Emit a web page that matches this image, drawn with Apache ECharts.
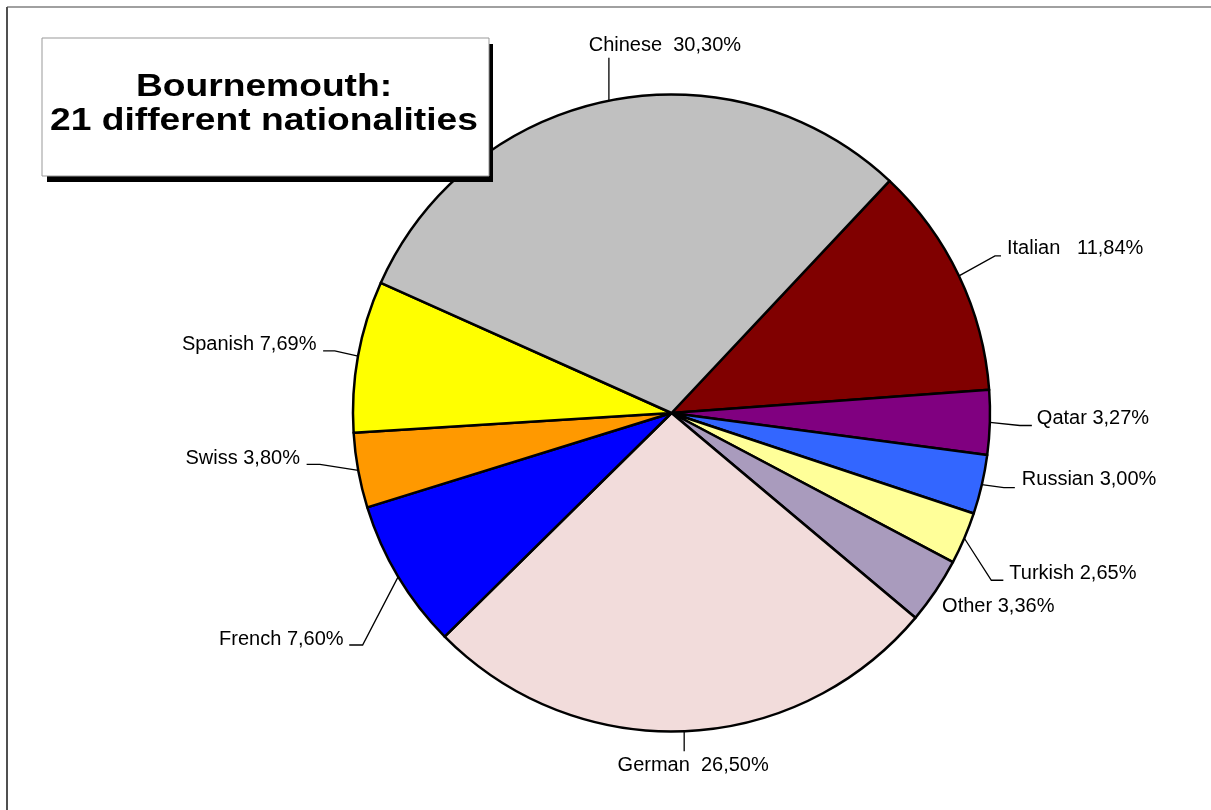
<!DOCTYPE html>
<html>
<head>
<meta charset="utf-8">
<script src="https://cdn.jsdelivr.net/npm/echarts@6/dist/echarts.min.js"></script>
<style>
html,body{margin:0;padding:0;background:#fff;}
#chart{width:1211px;height:810px;}
</style>
</head>
<body>
<div id="chart"></div>
<script>
// ---- data ----
const categories = ['Italian', 'Qatar', 'Russian', 'Turkish', 'Other', 'German', 'French', 'Swiss', 'Spanish', 'Chinese'];
const shares = [11.84, 3.27, 3.00, 2.65, 3.36, 26.50, 7.60, 3.80, 7.69, 30.30];
const labelSeparators = ['   ', ' ', ' ', ' ', ' ', '  ', ' ', ' ', ' ', '  '];
const titleLines = ['Bournemouth:', '21 different nationalities'];

// ---- styles / layout (not data) ----
const colors = ['#800000', '#800080', '#3366FF', '#FFFF99', '#A99BBD', '#F2DCDB', '#0000FF', '#FF9900', '#FFFF00', '#C0C0C0'];
// label placement relative to the slice's edge anchor computed by ECharts
// t: text anchor, e: elbow, l: line end, a: align
const placement = [
  {t:[48,-27], e:[36,-20], l:[42,-20], a:'left'},
  {t:[47,-3.5], e:[30,3], l:[42,3], a:'left'},
  {t:[40,-5.5], e:[22,3], l:[33,3], a:'left'},
  {t:[45,35], e:[27,42], l:[39,42], a:'left'},
  {t:[6.5,15], e:[0,0], l:[0,0], a:'left'},
  {t:[9,34], e:[0,20], l:[0,20], a:'center'},
  {t:[-54.6,62.5], e:[-35.6,68.4], l:[-49,68.4], a:'right'},
  {t:[-58.3,-12.3], e:[-38.3,-6], l:[-51.6,-6], a:'right'},
  {t:[-41.7,-12], e:[-23.4,-5.3], l:[-35,-5.3], a:'right'},
  {t:[56,-55], e:[0,-43], l:[0,-43], a:'center'}
];

const fmt = v => v.toFixed(2).replace('.', ',') + '%';
const pieData = categories.map((c, i) => ({
  name: c,
  value: shares[i],
  itemStyle: {color: colors[i]}
}));

const chart = echarts.init(document.getElementById('chart'), null, {renderer: 'canvas'});
chart.setOption({
  backgroundColor: '#fff',
  animation: false,
  graphic: [
    {type: 'line', shape: {x1: 7, y1: 7, x2: 1211, y2: 7}, style: {stroke: '#a0a0a0', lineWidth: 2}, z: 1},
    {type: 'line', shape: {x1: 7, y1: 7, x2: 7, y2: 810}, style: {stroke: '#505050', lineWidth: 2}, z: 1},
    {type: 'rect', shape: {x: 47, y: 44, width: 446, height: 138}, style: {fill: '#000'}, z: 10},
    {type: 'rect', shape: {x: 42, y: 38, width: 447, height: 138}, style: {fill: '#fff', stroke: '#999', lineWidth: 1}, z: 11},
    {type: 'text', x: 264, y: 104, scaleX: 1.2, scaleY: 1, z: 12, style: {
      text: titleLines.join('\n'), align: 'center', verticalAlign: 'middle',
      fontFamily: 'Liberation Sans, Arial, sans-serif', fontWeight: 'bold', fontSize: 31,
      lineHeight: 34, fill: '#000'
    }}
  ],
  series: [{
    type: 'pie',
    center: [671.5, 413],
    radius: 318.5,
    startAngle: 46.8,
    clockwise: true,
    avoidLabelOverlap: false,
    data: pieData,
    itemStyle: {borderColor: '#000', borderWidth: 2.5},
    label: {
      show: true,
      position: 'outside',
      color: '#000',
      fontFamily: 'Liberation Sans, Arial, sans-serif',
      fontSize: 20,
      formatter: p => p.name + labelSeparators[p.dataIndex] + fmt(p.value)
    },
    labelLine: {show: true, length: 20, length2: 10, lineStyle: {color: '#000', width: 1.3}},
    labelLayout: function (p) {
      const pl = placement[p.dataIndex];
      const pts = p.labelLinePoints;
      if (!pts) return {};
      const p0 = pts[0];
      return {
        x: p0[0] + pl.t[0],
        y: p0[1] + pl.t[1],
        align: pl.a,
        verticalAlign: 'middle',
        labelLinePoints: [
          [p0[0], p0[1]],
          [p0[0] + pl.e[0], p0[1] + pl.e[1]],
          [p0[0] + pl.l[0], p0[1] + pl.l[1]]
        ]
      };
    },
    emphasis: {disabled: true}
  }]
});
</script>
</body>
</html>
